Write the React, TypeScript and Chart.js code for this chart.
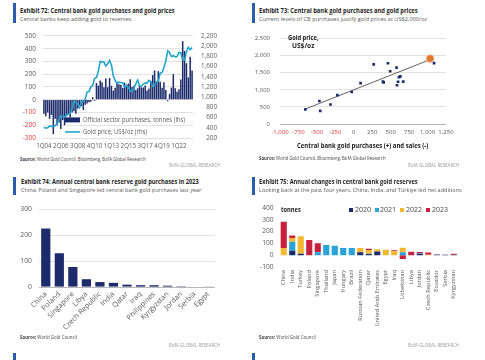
import React, { useEffect, useLayoutEffect, useRef } from 'react';
import Chart from 'chart.js/auto';

const FONT = '"Open Sans", "Noto Sans", Arial, sans-serif';
const NAVY = '#1c2b6b';
const TEAL = '#22a5cc';
const RED = '#e0383e';
const ORANGE = '#e2762f';
const BLUE_BAR = '#2b5cab';
const TXT = '#5a5a5a';
const GRID = '#d9d9d9';
const ZERO = '#a6a6a6';

// ---------- Exhibit 72 ----------
const quarterYears = [2004, 2005, 2006, 2007, 2008, 2009, 2010, 2011, 2012, 2013, 2014, 2015, 2016, 2017, 2018, 2019, 2020, 2021, 2022, 2023];
const quarterLabels = quarterYears.flatMap((y) => [1, 2, 3, 4].map((q) => `${q}Q${String(y).slice(2)}`));
const labeledQuarters = ['1Q04', '2Q06', '3Q08', '4Q10', '1Q13', '2Q15', '3Q17', '4Q19', '1Q22'];
const cbPurchasesTonnes = [
  -110, -130, -100, -150,
  -120, -270, -150, -200,
  -180, -230, -160, -200,
  -130, -110, -140, -100,
  -90, -110, -70, -60,
  -50, -80, -40, -30,
  -20, -15, 20, -10,
  130, 110, 150, 137,
  97, 166, 98, 170,
  109, 71, 93, 137,
  122, 118, 93, 134,
  119, 126, 161, 100,
  109, 77, 90, 113,
  96, 96, 111, 72,
  87, 146, 193, 230,
  146, 224, 141, 94,
  137, 77, -12, 46,
  95, 200, 90, 63,
  82, 158, 459, 382,
  286, 175, 337, 229,
];
const goldPriceUsd = [
  408, 393, 401, 434,
  427, 427, 440, 485,
  554, 628, 622, 614,
  650, 667, 680, 788,
  925, 896, 872, 795,
  908, 922, 960, 1100,
  1109, 1197, 1227, 1367,
  1386, 1506, 1702, 1688,
  1691, 1609, 1652, 1722,
  1632, 1415, 1326, 1272,
  1293, 1288, 1282, 1201,
  1218, 1192, 1124, 1106,
  1183, 1260, 1335, 1222,
  1219, 1257, 1278, 1275,
  1329, 1306, 1213, 1227,
  1304, 1310, 1472, 1481,
  1583, 1711, 1909, 1874,
  1794, 1816, 1789, 1795,
  1877, 1871, 1729, 1726,
  1890, 1976, 1929, 1971,
];

// ---------- Exhibit 73 ----------
const cbNetPurchases = [-656, -466, -455, -315, -222, -28, 92, 270, 395, 405, 463, 493, 580, 612, 632, 600, 586, 670, 1088];
const goldPriceAvg = [430, 674, 385, 570, 843, 936, 1199, 1745, 1240, 1220, 1779, 1545, 1649, 1372, 1396, 1236, 1134, 1240, 1784];
const currentPurchases = [1035];
const currentPrice = [1915];
const trendX = [-656, 1035];
const trendY = [440, 1885];

// ---------- Exhibit 74 ----------
const countries74 = ['China', 'Poland', 'Singapore', 'Libya', 'Czech Republic', 'India', 'Qatar', 'Iraq', 'Philippines', 'Kyrgyzstan', 'Jordan', 'Serbia', 'Egypt'];
const purchases2023 = [225, 130, 77, 30, 19, 16, 9, 7, 7, 5, 3, 1.5, 1];

// ---------- Exhibit 75 ----------
const countries75 = ['China', 'India', 'Turkey', 'Poland', 'Singapore', 'Thailand', 'Japan', 'Hungary', 'Brazil', 'Russian Federation', 'Qatar', 'United Arab Emirates', 'Egypt', 'Iraq', 'Uzbekistan', 'Libya', 'Jordan', 'Czech Republic', 'Ecuador', 'Serbia', 'Kyrgyzstan'];
const chg2020 = [0, 38, 13, 0, 0, 0, 0, 0, 0, 24, 10, 32, 0, 0, 0, 0, 12, 0, 6, 2, 3];
const chg2021 = [0, 75, 0, 0, 25, 87, 79, 61, 61, 3, 2, 0, 0, 0, 25, 0, 4, 0, 0, 1, 0];
const chg2022 = [60, 33, 147, 0, 0, 0, 0, 0, 0, 33, 33, 18, 46, 34, 37, 0, 0, 4, 0, 1, 0];
const chg2023 = [224, 20, 0, 128, 76, 0, 0, 0, 0, 0, 10, 0, 0, 7, -32, 30, 10, 19, 0, 2, 9];
const yearLabels75 = ['2020', '2021', '2022', '2023'];
const yearColors75 = [NAVY, '#2aa3d6', '#f4b731', '#c8213f'];

const fmt = (v: number) => Number(v).toLocaleString('en-US');

Chart.defaults.font.family = FONT;
Chart.defaults.color = TXT;

function FitText(props: { x: number; cy: number; w: number; size: number; weight?: number; color?: string; align?: 'left' | 'right' | 'center'; children: React.ReactNode }) {
  const ref = useRef<HTMLSpanElement>(null);
  const { x, cy, w, size, weight = 400, color = '#222', align = 'left' } = props;
  useLayoutEffect(() => {
    const measure = () => {
      const el = ref.current;
      if (!el) return;
      el.style.transform = 'none';
      const nat = el.offsetWidth;
      if (nat > 0) el.style.transform = `scaleX(${w / nat})`;
    };
    measure();
    const d: any = document;
    if (d.fonts && d.fonts.ready) d.fonts.ready.then(measure);
  });
  const left = align === 'left' ? x : align === 'right' ? x - w : x - w / 2;
  return (
    <span
      ref={ref}
      style={{
        position: 'absolute', left, top: cy - size * 0.6, fontSize: size, lineHeight: `${size * 1.2}px`,
        fontWeight: weight, color, whiteSpace: 'nowrap', transformOrigin: 'left center', fontFamily: FONT, display: 'inline-block',
      }}
    >
      {props.children}
    </span>
  );
}

function ChartCanvas(props: { left: number; top: number; width: number; height: number; make: () => any }) {
  const ref = useRef<HTMLCanvasElement>(null);
  useEffect(() => {
    const chart = new Chart(ref.current as HTMLCanvasElement, props.make());
    return () => chart.destroy();
  }, []);
  return (
    <canvas ref={ref} width={props.width} height={props.height}
      style={{ position: 'absolute', left: props.left, top: props.top, width: props.width, height: props.height }} />
  );
}

const negRed = (c: any) => (c.tick && c.tick.value < 0 ? RED : TXT);
const zeroGrid = (c: any) => (c.tick && c.tick.value === 0 ? ZERO : GRID);

const legend72 = {
  id: 'legend72',
  afterDatasetsDraw(chart: any) {
    const { ctx, chartArea } = chart;
    const x0 = chartArea.left + 22;
    const yA = chartArea.top + 84;
    const yB = chartArea.top + 96;
    const barDs = chart.data.datasets[1];
    const lineDs = chart.data.datasets[0];
    ctx.save();
    ctx.fillStyle = barDs.backgroundColor;
    ctx.fillRect(x0, yA - 2.5, 15, 5);
    ctx.strokeStyle = lineDs.borderColor;
    ctx.lineWidth = 1.6;
    ctx.beginPath();
    ctx.moveTo(x0, yB);
    ctx.lineTo(x0 + 15, yB);
    ctx.stroke();
    ctx.fillStyle = TXT;
    ctx.font = `6.3px ${FONT}`;
    ctx.textBaseline = 'middle';
    ctx.fillText(barDs.label, x0 + 18, yA, 102);
    ctx.fillText(lineDs.label, x0 + 18, yB, 64);
    ctx.restore();
  },
};

const make72 = () => ({
  type: 'bar',
  data: {
    labels: quarterLabels,
    datasets: [
      { type: 'line', label: 'Gold price, US$/oz (rhs)', data: goldPriceUsd, yAxisID: 'y1', borderColor: TEAL, borderWidth: 1.6, pointRadius: 0, tension: 0, order: 0 },
      { type: 'bar', label: 'Official sector purchases, tonnes (lhs)', data: cbPurchasesTonnes, yAxisID: 'y', backgroundColor: NAVY, barPercentage: 0.8, categoryPercentage: 1, order: 1 },
    ],
  },
  options: {
    responsive: false, animation: false,
    layout: { padding: { top: 10, bottom: 3, left: 0, right: 25 } },
    plugins: { legend: { display: false }, tooltip: { enabled: false } },
    scales: {
      x: {
        grid: { display: false, drawTicks: false }, border: { display: false },
        ticks: { autoSkip: false, maxRotation: 0, minRotation: 0, padding: 5, font: { size: 6.2 }, color: TXT,
          callback: (_v: any, i: number) => (labeledQuarters.includes(quarterLabels[i]) ? quarterLabels[i] : '') },
        afterFit: (s: any) => { s.height = 14; },
      },
      y: {
        position: 'left', min: -300, max: 500,
        ticks: { stepSize: 100, autoSkip: false, padding: 7, font: { size: 6.5 }, color: negRed },
        grid: { color: GRID, drawTicks: false, lineWidth: 0.8 }, border: { display: false },
        afterFit: (s: any) => { s.width = 43; },
      },
      y1: {
        position: 'right', min: 200, max: 2200,
        ticks: { stepSize: 200, autoSkip: false, padding: 6, crossAlign: 'far', font: { size: 6.3 }, color: TXT, callback: (v: any) => fmt(v) },
        grid: { display: false, drawTicks: false }, border: { display: false },
        afterFit: (s: any) => { s.width = 24; },
      },
    },
  },
  plugins: [legend72],
});

const make73 = () => ({
  type: 'scatter',
  data: {
    datasets: [
      { type: 'line', label: 'trend', data: trendX.map((x, i) => ({ x, y: trendY[i] })), borderColor: '#3a3a3a', borderWidth: 0.8, pointRadius: 0, order: 2 },
      { label: 'history', data: cbNetPurchases.map((x, i) => ({ x, y: goldPriceAvg[i] })), pointStyle: 'rect', pointRadius: 1.9, backgroundColor: NAVY, borderWidth: 0, order: 1 },
      { label: 'current', data: currentPurchases.map((x, i) => ({ x, y: currentPrice[i] })), pointStyle: 'circle', pointRadius: 3.6, backgroundColor: ORANGE, borderColor: 'rgba(240,160,110,0.8)', borderWidth: 1.2, order: 0 },
    ],
  },
  options: {
    responsive: false, animation: false,
    layout: { padding: { top: 10, bottom: 17, left: 0, right: 39 } },
    plugins: { legend: { display: false }, tooltip: { enabled: false } },
    scales: {
      x: {
        type: 'linear', min: -1000, max: 1250,
        grid: { display: false, drawTicks: false }, border: { display: false },
        ticks: { stepSize: 250, padding: 5, maxRotation: 0, autoSkip: false, font: { size: 6 }, color: negRed, callback: (v: any) => fmt(v) },
        afterFit: (s: any) => { s.height = 14; },
      },
      y: {
        min: 0, max: 2500,
        ticks: { stepSize: 500, autoSkip: false, padding: 10, font: { size: 6 }, color: TXT, callback: (v: any) => fmt(v) },
        grid: { color: zeroGrid, drawTicks: false, lineWidth: 0.8 }, border: { display: false },
        afterFit: (s: any) => { s.width = 38; },
      },
    },
  },
});

const make74 = () => ({
  type: 'bar',
  data: {
    labels: countries74,
    datasets: [{ label: '2023', data: purchases2023, backgroundColor: NAVY, barPercentage: 0.68, categoryPercentage: 1 }],
  },
  options: {
    responsive: false, animation: false,
    layout: { padding: { top: 7, bottom: 3, left: 0, right: 27 } },
    plugins: { legend: { display: false }, tooltip: { enabled: false } },
    scales: {
      x: {
        grid: { display: false, drawTicks: false }, border: { display: false },
        ticks: { autoSkip: false, minRotation: 45, maxRotation: 45, padding: 3, font: { size: 7.2 }, color: TXT },
        afterFit: (s: any) => { s.height = 45; },
      },
      y: {
        min: 0, max: 300,
        ticks: { stepSize: 100, autoSkip: false, padding: 7, font: { size: 6.8 }, color: TXT },
        grid: { color: zeroGrid, drawTicks: false, lineWidth: 0.8 }, border: { display: false },
        afterFit: (s: any) => { s.width = 39; },
      },
    },
  },
});

const make75 = () => ({
  type: 'bar',
  data: {
    labels: countries75,
    datasets: [chg2020, chg2021, chg2022, chg2023].map((d, i) => ({
      label: yearLabels75[i], data: d, backgroundColor: yearColors75[i], barPercentage: 0.72, categoryPercentage: 1,
    })),
  },
  options: {
    responsive: false, animation: false,
    layout: { padding: { top: 7, bottom: 2, left: 0, right: 27 } },
    plugins: { legend: { display: false }, tooltip: { enabled: false } },
    scales: {
      x: {
        stacked: true,
        grid: { display: false, drawTicks: false }, border: { display: false },
        ticks: { autoSkip: false, minRotation: 90, maxRotation: 90, padding: 3, font: { size: 5.7 }, color: TXT },
        afterFit: (s: any) => { s.height = 66; },
      },
      y: {
        stacked: true, min: -100, max: 400,
        ticks: { stepSize: 100, autoSkip: false, padding: 6, font: { size: 6.6 }, color: TXT },
        grid: { display: false, drawTicks: false }, border: { display: false },
        afterFit: (s: any) => { s.width = 37.5; },
      },
    },
  },
});

function Bar(p: { x: number; y: number; h: number }) {
  return <div style={{ position: 'absolute', left: p.x, top: p.y, width: 3, height: p.h, background: BLUE_BAR }} />;
}

function Source(p: { x: number; cy: number; w: number; rest: string }) {
  return (
    <FitText x={p.x} cy={p.cy} w={p.w} size={4.8} color="#444">
      <b style={{ fontWeight: 700 }}>Source:</b> {p.rest}
    </FitText>
  );
}

function Bofa(p: { x: number; cy: number }) {
  return <FitText x={p.x} cy={p.cy} w={51} size={4.4} color="#9a9a9a" align="right">BofA GLOBAL RESEARCH</FitText>;
}

export default function App() {
  return (
    <div style={{ position: 'fixed', left: 0, top: 0, width: 485, height: 360, background: '#fff', overflow: 'hidden', fontFamily: FONT }}>
      {/* Exhibit 72 */}
      <Bar x={13} y={3} h={20} />
      <FitText x={20} cy={10.5} w={155} size={6.3} weight={700} color="#1e1e1e">Exhibit 72: Central bank gold purchases and gold prices</FitText>
      <FitText x={20} cy={19} w={111} size={5.8} color="#5a5a5a">Central banks keep adding gold to reserves</FitText>
      <ChartCanvas left={0} top={25} width={242} height={130} make={make72} />
      <Source x={20} cy={160} w={126} rest="World Gold Council, Bloomberg, BofA Global Research" />
      <Bofa x={220} cy={166} />

      {/* Exhibit 73 */}
      <Bar x={252} y={3} h={20} />
      <FitText x={259} cy={10.5} w={159} size={6.3} weight={700} color="#1e1e1e">Exhibit 73: Central bank gold purchases and gold prices</FitText>
      <FitText x={259} cy={19} w={168} size={5.8} color="#5a5a5a">Current levels of CB purchases justify gold prices at US$2,000/oz</FitText>
      <ChartCanvas left={242} top={25} width={243} height={130} make={make73} />
      <FitText x={303} cy={37.5} w={31} size={6.3} weight={700} color="#222" align="center">Gold price,</FitText>
      <FitText x={303} cy={46} w={22} size={6.3} weight={700} color="#222" align="center">US$/oz</FitText>
      <FitText x={362} cy={146} w={131} size={6.6} weight={700} color="#222" align="center">Central bank gold purchases (+) and sales (-)</FitText>
      <Source x={259} cy={159} w={127} rest="World Gold Council, Bloomberg, BofA Global Research" />
      <Bofa x={459} cy={166} />

      {/* Exhibit 74 */}
      <Bar x={13} y={177} h={18} />
      <FitText x={20.5} cy={181.7} w={178} size={6.3} weight={700} color="#1e1e1e">Exhibit 74: Annual central bank reserve gold purchases in 2023</FitText>
      <FitText x={20.5} cy={190} w={180} size={5.8} color="#5a5a5a">China, Poland and Singapore led central bank gold purchases last year</FitText>
      <ChartCanvas left={0} top={198} width={242} height={137} make={make74} />
      <Source x={20} cy={338} w={57} rest="World Gold Council" />
      <Bofa x={220} cy={345.5} />

      {/* Exhibit 75 */}
      <Bar x={252} y={177} h={18} />
      <FitText x={259.3} cy={181.7} w={159} size={6.3} weight={700} color="#1e1e1e">Exhibit 75: Annual changes in central bank gold reserves</FitText>
      <FitText x={259.3} cy={190.5} w={203} size={5.8} color="#5a5a5a">Looking back at the past four years, China, India, and Türkiye led net additions</FitText>
      <ChartCanvas left={242} top={198} width={243} height={137} make={make75} />
      <FitText x={281} cy={210} w={20} size={6.6} weight={700} color="#222">tonnes</FitText>
      {yearLabels75.map((y, i) => (
        <React.Fragment key={y}>
          <div style={{ position: 'absolute', left: 349 + i * 25.7, top: 208, width: 4, height: 4, background: yearColors75[i] }} />
          <FitText x={354.5 + i * 25.7} cy={210} w={16} size={6.6} color="#444">{y}</FitText>
        </React.Fragment>
      ))}
      <Source x={259} cy={338} w={57} rest="World Gold Council" />
      <Bofa x={459} cy={345.5} />

      {/* next exhibits, cut off at the page edge */}
      <Bar x={13} y={353} h={8} />
      <Bar x={252} y={353} h={8} />
    </div>
  );
}
